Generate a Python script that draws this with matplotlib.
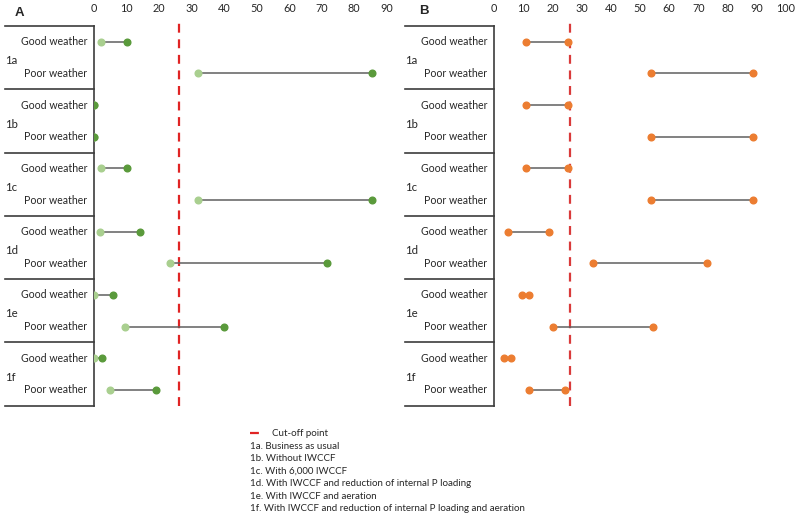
import matplotlib
matplotlib.use("Agg")
import matplotlib.pyplot as plt
from matplotlib.lines import Line2D

plt.rcParams['font.family'] = ['Lato', 'DejaVu Sans']

# ── DATA ──────────────────────────────────
scenarios = ["1a", "1b", "1c", "1d", "1e", "1f"]
conditions = ["Good weather", "Poor weather"]

# panel A: low / high end of each row (Good, Poor per scenario)
a_low = [2, 32, 0, 0, 2, 32, 1.6, 23.2, 0, 9.5, 0, 4.9]
a_high = [10, 85.3, 0, 0, 10, 85.3, 14, 71.7, 5.7, 39.9, 2.5, 19]

# panel B
b_low = [10.9, 53.9, 10.9, 53.9, 10.9, 53.9, 4.6, 33.8, 9.5, 20.3, 3.2, 11.9]
b_high = [25.2, 88.9, 25.2, 88.9, 25.2, 88.9, 18.9, 72.9, 11.9, 54.5, 5.6, 24.4]

a_ticks = [0, 10, 20, 30, 40, 50, 60, 70, 80, 90]
b_ticks = [0, 10, 20, 30, 40, 50, 60, 70, 80, 90, 100]
cutoff = 26

legend_lines = [
    "1a. Business as usual",
    "1b. Without IWCCF",
    "1c. With 6,000 IWCCF",
    "1d. With IWCCF and reduction of internal P loading",
    "1e. With IWCCF and aeration",
    "1f. With IWCCF and reduction of internal P loading and aeration",
]

# ── STYLE ─────────────────────────────────
COLOR_TEXT = "#262626"
COLOR_AXIS = "#3c3c3c"
COLOR_LINK = "#5f5f5f"
COLOR_CUT = "#e02424"

W, H = 800, 517
fig = plt.figure(figsize=(W / 100, H / 100), dpi=100)


def px_box(left, top, right, bottom):
    return [left / W, 1 - bottom / H, (right - left) / W, (bottom - top) / H]


def draw_panel(ax, low, high, c_low, c_high, ticks, xmax, cut_color):
    n = len(low)
    ypos = [i + 0.5 for i in range(n)]
    for y, lo, hi in zip(ypos, low, high):
        ax.plot([lo, hi], [y, y], color=COLOR_LINK, lw=1.1, zorder=2)
    ax.plot(low, ypos, "o", color=c_low, ms=4.8, zorder=3)
    ax.plot(high, ypos, "o", color=c_high, ms=4.8, zorder=4)
    ax.axvline(cutoff, ymin=0, ymax=1.01, color=cut_color, lw=1.6,
               dashes=(4, 3), zorder=1, clip_on=False)

    ax.set_xlim(0, xmax)
    ax.set_ylim(n, 0)
    ax.set_xticks(ticks)
    ax.xaxis.tick_top()
    ax.tick_params(axis="x", length=0, pad=9, labelsize=7.8, colors=COLOR_TEXT)
    ax.set_yticks([])
    for side in ("top", "right", "bottom"):
        ax.spines[side].set_visible(False)
    ax.spines["left"].set_color(COLOR_AXIS)
    ax.spines["left"].set_linewidth(1.2)

    # row labels and group separators in the left margin
    trans = ax.get_yaxis_transform()
    left_frac = -89 / (ax.get_position().width * W)
    for g, name in enumerate(scenarios):
        for k, cond in enumerate(conditions):
            ax.text(-0.024, 2 * g + k + 0.5, cond, transform=trans,
                    ha="right", va="center", fontsize=7.6, color=COLOR_TEXT)
        ax.text(left_frac - 0.002, 2 * g + 1.1, name, transform=trans,
                ha="left", va="center", fontsize=8.2, color=COLOR_TEXT)
    for g in range(len(scenarios) + 1):
        ax.plot([left_frac, 0], [2 * g, 2 * g], transform=trans,
                color=COLOR_AXIS, lw=1.2, clip_on=False)


ax_a = fig.add_axes(px_box(94.3, 26, 94.3 + 92 * 3.25, 405.7))
draw_panel(ax_a, a_low, a_high, "#a9cf8f", "#5a9a3b", a_ticks, 92, COLOR_CUT)

ax_b = fig.add_axes(px_box(494.3, 26, 494.3 + 102 * 2.914, 405.7))
draw_panel(ax_b, b_low, b_high, "#ec7d31", "#ec7d31", b_ticks, 102, "#d93a3a")

fig.text(19 / W, 1 - 13 / H, "A", fontsize=9.5, fontweight="bold",
         family="Liberation Sans", ha="center", va="center", color=COLOR_TEXT)
fig.text(424 / W, 1 - 11 / H, "B", fontsize=9.5, fontweight="bold",
         family="Liberation Sans", ha="center", va="center", color=COLOR_TEXT)

# ── LEGEND / NOTES ────────────────────────
fig.add_artist(Line2D([250 / W, 263 / W], [1 - 433 / H, 1 - 433 / H],
                      transform=fig.transFigure, color=COLOR_CUT, lw=1.6,
                      dashes=(4, 2)))
fig.text(271.5 / W, 1 - 433 / H, "Cut-off point", fontsize=7,
         ha="left", va="center", color=COLOR_TEXT)
for i, line in enumerate(legend_lines):
    fig.text(250 / W, 1 - (446.5 + i * 12.4) / H, line, fontsize=7,
             ha="left", va="center", color=COLOR_TEXT)

fig.savefig("out.png", dpi=100, facecolor="white")
